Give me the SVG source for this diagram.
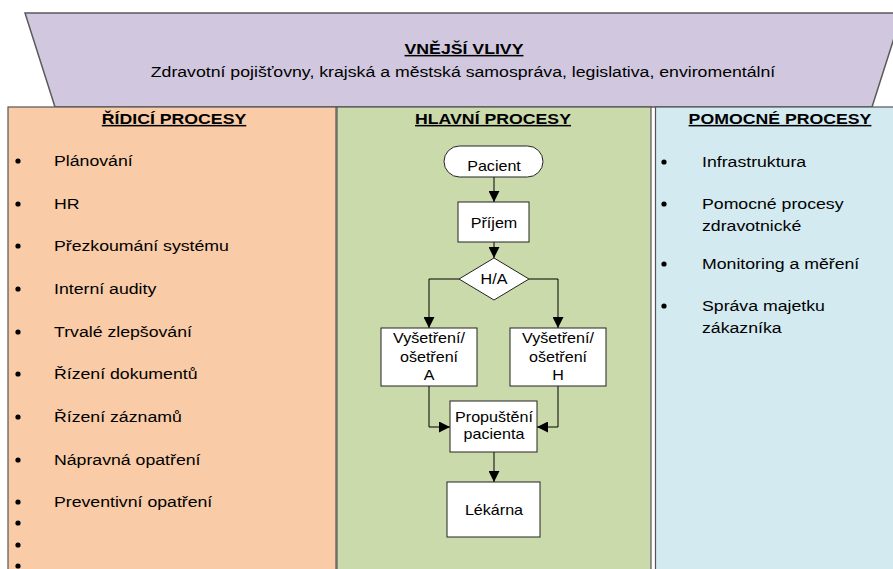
<svg xmlns="http://www.w3.org/2000/svg" width="893" height="569" viewBox="0 0 893 569">
<style>
text{font-family:"Liberation Sans",Arial,sans-serif;fill:#000}
.t{font-size:15px;font-weight:bold;text-decoration:underline;text-anchor:middle}
.s{font-size:15px;text-anchor:middle}
.b{font-size:15px}
.f{font-size:14px;text-anchor:middle}
.node{fill:#fff;stroke:#222;stroke-width:1}
.conn{fill:none;stroke:#000;stroke-width:1}
.dot{fill:#000}
</style>
<defs>
<marker id="arr" markerUnits="userSpaceOnUse" markerWidth="11" markerHeight="11" refX="11" refY="5.5" orient="auto">
<path d="M0,0 L11,5.5 L0,11 z" fill="#000"/>
</marker>
</defs>
<rect width="893" height="569" fill="#fff"/>
<g id="vnejsi">
<polygon points="25,13 902,13 872,107 55,107" fill="#d1c8df" stroke="#5a5a5a" stroke-width="1.5"/>
<text class="t" transform="matrix(1.18 0 0 1 464 54)">VNĚJŠÍ VLIVY</text>
<text class="s" transform="matrix(1.18 0 0 1 463 77)">Zdravotní pojišťovny, krajská a městská samospráva, legislativa, enviromentální</text>
</g>
<g id="ridici">
<rect x="8" y="107" width="328" height="470" fill="#f9cba6" stroke="#555" stroke-width="1.2"/>
<text class="t" transform="matrix(1.18 0 0 1 174 124)">ŘÍDICÍ PROCESY</text>
<circle class="dot" cx="18" cy="161" r="2.6"/><text class="b" transform="matrix(1.18 0 0 1 54 166)">Plánování</text>
<circle class="dot" cx="18" cy="204" r="2.6"/><text class="b" transform="matrix(1.18 0 0 1 54 209)">HR</text>
<circle class="dot" cx="18" cy="246" r="2.6"/><text class="b" transform="matrix(1.18 0 0 1 54 251)">Přezkoumání systému</text>
<circle class="dot" cx="18" cy="289" r="2.6"/><text class="b" transform="matrix(1.18 0 0 1 54 294)">Interní audity</text>
<circle class="dot" cx="18" cy="332" r="2.6"/><text class="b" transform="matrix(1.18 0 0 1 54 337)">Trvalé zlepšování</text>
<circle class="dot" cx="18" cy="374" r="2.6"/><text class="b" transform="matrix(1.18 0 0 1 54 379)">Řízení dokumentů</text>
<circle class="dot" cx="18" cy="417" r="2.6"/><text class="b" transform="matrix(1.18 0 0 1 54 422)">Řízení záznamů</text>
<circle class="dot" cx="18" cy="460" r="2.6"/><text class="b" transform="matrix(1.18 0 0 1 54 465)">Nápravná opatření</text>
<circle class="dot" cx="18" cy="502" r="2.6"/><text class="b" transform="matrix(1.18 0 0 1 54 507)">Preventivní opatření</text>
<circle class="dot" cx="18" cy="523" r="2.6"/>
<circle class="dot" cx="18" cy="545" r="2.6"/>
<circle class="dot" cx="18" cy="566" r="2.6"/>
</g>
<g id="hlavni">
<rect x="337" y="107" width="314" height="470" fill="#cbdaab" stroke="#555" stroke-width="1.2"/>
<text class="t" transform="matrix(1.18 0 0 1 493 124)">HLAVNÍ PROCESY</text>
</g>
<g id="pomocne">
<rect x="655.5" y="107" width="250" height="470" fill="#d3eaf0" stroke="#555" stroke-width="1.2"/>
<text class="t" transform="matrix(1.18 0 0 1 780 124)">POMOCNÉ PROCESY</text>
<circle class="dot" cx="664" cy="162" r="2.6"/><text class="b" transform="matrix(1.18 0 0 1 702 167)">Infrastruktura</text>
<circle class="dot" cx="664" cy="204" r="2.6"/><text class="b" transform="matrix(1.18 0 0 1 702 209)">Pomocné procesy</text>
<text class="b" transform="matrix(1.18 0 0 1 702 231)">zdravotnické</text>
<circle class="dot" cx="664" cy="264" r="2.6"/><text class="b" transform="matrix(1.18 0 0 1 702 269)">Monitoring a měření</text>
<circle class="dot" cx="664" cy="306" r="2.6"/><text class="b" transform="matrix(1.18 0 0 1 702 311)">Správa majetku</text>
<text class="b" transform="matrix(1.18 0 0 1 702 333)">zákazníka</text>
</g>
<g id="connectors">
<path class="conn" d="M494,177 V202" marker-end="url(#arr)"/>
<path class="conn" d="M494,242 V258" marker-end="url(#arr)"/>
<path class="conn" d="M459,279 H429 V328" marker-end="url(#arr)"/>
<path class="conn" d="M529,279 H558 V328" marker-end="url(#arr)"/>
<path class="conn" d="M429,386 V427 H450" marker-end="url(#arr)"/>
<path class="conn" d="M558,386 V427 H537" marker-end="url(#arr)"/>
<path class="conn" d="M494,452 V482" marker-end="url(#arr)"/>
</g>
<g id="pacient">
<rect class="node" x="444" y="146" width="99" height="31" rx="15.5"/>
<text class="f" transform="matrix(1.15 0 0 1 494 171)">Pacient</text>
</g>
<g id="prijem">
<rect class="node" x="458" y="202" width="71" height="40"/>
<text class="f" transform="matrix(1.15 0 0 1 494 228)">Příjem</text>
</g>
<g id="ha">
<polygon class="node" points="494,258 529,279 494,300 459,279"/>
<text class="f" transform="matrix(1.15 0 0 1 494 284)">H/A</text>
</g>
<g id="vysetreni-a">
<rect class="node" x="381" y="328" width="96" height="58"/>
<text class="f" transform="matrix(1.15 0 0 1 429 343)">Vyšetření/</text>
<text class="f" transform="matrix(1.15 0 0 1 429 362)">ošetření</text>
<text class="f" transform="matrix(1.15 0 0 1 429 380)">A</text>
</g>
<g id="vysetreni-h">
<rect class="node" x="510" y="328" width="96" height="58"/>
<text class="f" transform="matrix(1.15 0 0 1 558 343)">Vyšetření/</text>
<text class="f" transform="matrix(1.15 0 0 1 558 362)">ošetření</text>
<text class="f" transform="matrix(1.15 0 0 1 558 380)">H</text>
</g>
<g id="propusteni">
<rect class="node" x="450" y="401" width="87" height="51"/>
<text class="f" transform="matrix(1.15 0 0 1 494 422)">Propuštění</text>
<text class="f" transform="matrix(1.15 0 0 1 494 439)">pacienta</text>
</g>
<g id="lekarna">
<rect class="node" x="447" y="482" width="93" height="55"/>
<text class="f" transform="matrix(1.15 0 0 1 494 515)">Lékárna</text>
</g>
</svg>
